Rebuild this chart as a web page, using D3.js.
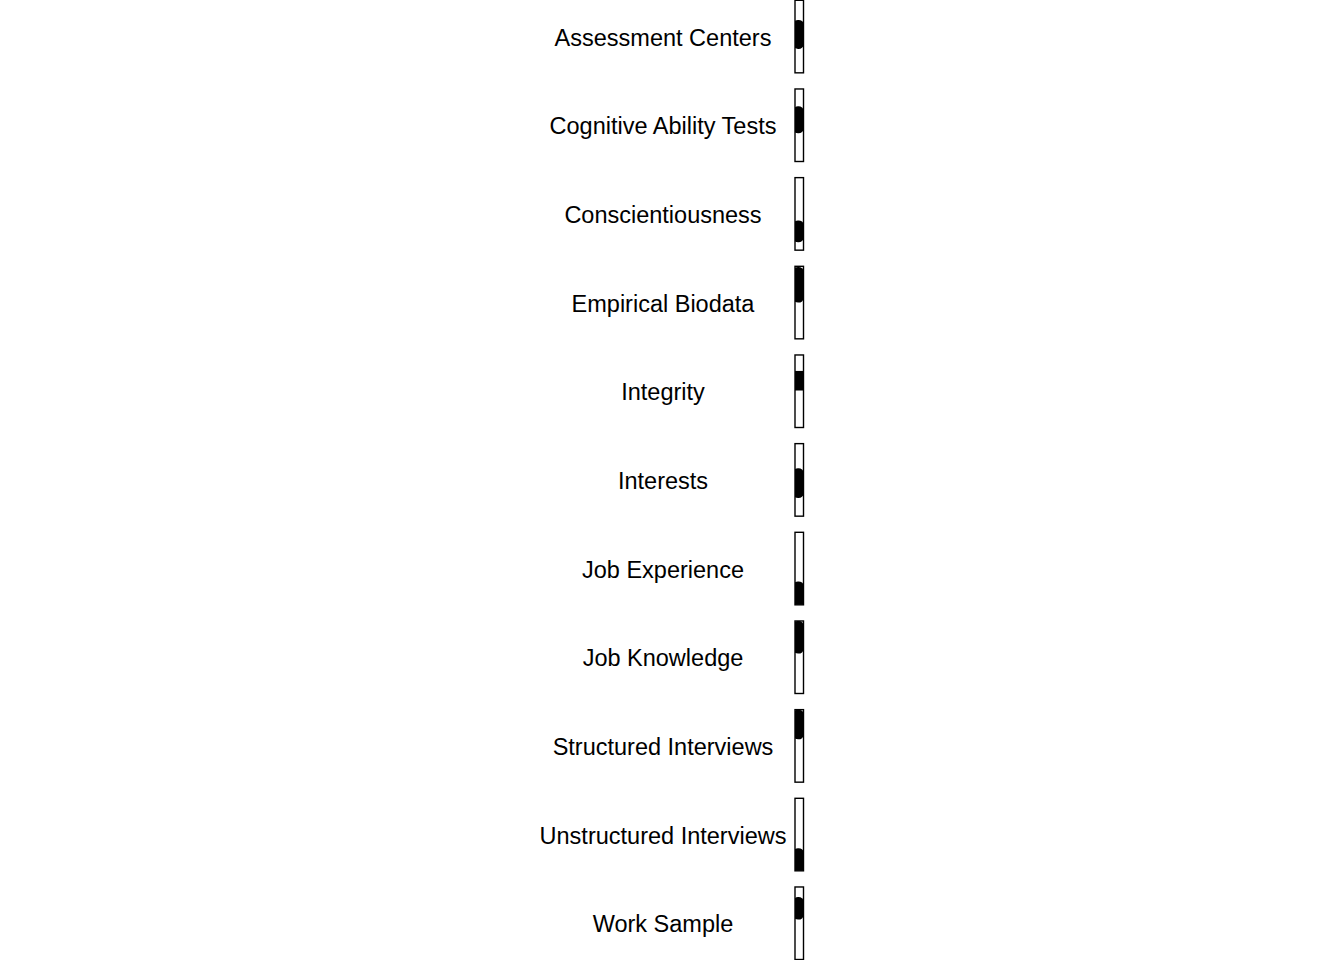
<!DOCTYPE html>
<html><head><meta charset="utf-8">
<script src="https://cdn.jsdelivr.net/npm/d3@7"></script>
<style>html,body{margin:0;padding:0;background:#fff;}svg{display:block;}</style>
</head><body>
<svg id="chart" width="1344" height="960"></svg>
<script>
const categories = ["Assessment Centers","Cognitive Ability Tests","Conscientiousness","Empirical Biodata","Integrity","Interests","Job Experience","Job Knowledge","Structured Interviews","Unstructured Interviews","Work Sample"];
const lowValues  = [0.27,0.24,0.59,0.01,0.22,0.34,0.76,0.00,0.00,0.77,0.14];
const highValues = [0.67,0.61,0.89,0.50,0.49,0.75,1.00,0.45,0.41,1.00,0.45];
const roundEnds  = [true,true,true,true,false,true,true,true,true,true,true];

const svg = d3.select("#chart");
const band = d3.scaleBand().domain(categories).range([0.3, 959.5]).paddingInner(0.182).paddingOuter(0);
const boxX = 795, boxW = 8.5;
const labelX = 663;

const g = svg.selectAll("g.row").data(categories).join("g").attr("class","row")
  .attr("transform", d => `translate(0,${band(d)})`);

const h = band.bandwidth();
const v = d3.scaleLinear().domain([0,1]).range([0, h]);

g.append("clipPath").attr("id",(d,i)=>"clip"+i)
  .append("rect").attr("x",boxX).attr("y",0).attr("width",boxW).attr("height",h);

g.append("text").attr("x",labelX).attr("y",h/2 + 1).attr("text-anchor","middle")
  .attr("dominant-baseline","central")
  .attr("font-family","'Liberation Sans', Arial, sans-serif").attr("font-size",23.5)
  .attr("fill","#000").text(d=>d);

g.append("rect").attr("clip-path",(d,i)=>`url(#clip${i})`)
  .attr("x", boxX - 2)
  .attr("y",(d,i)=>v(lowValues[i]) - (highValues[i]>=1?6:0))
  .attr("width", boxW + 2)
  .attr("height",(d,i)=>v(highValues[i]) - v(lowValues[i]) + (highValues[i]>=1?12:0))
  .attr("rx",(d,i)=>roundEnds[i]?5:0).attr("ry",(d,i)=>roundEnds[i]?4:0)
  .attr("fill","#000");

g.append("rect").attr("x",boxX).attr("y",0).attr("width",boxW).attr("height",h)
  .attr("fill","none").attr("stroke","#000").attr("stroke-width",1.4);
</script>
</body></html>
